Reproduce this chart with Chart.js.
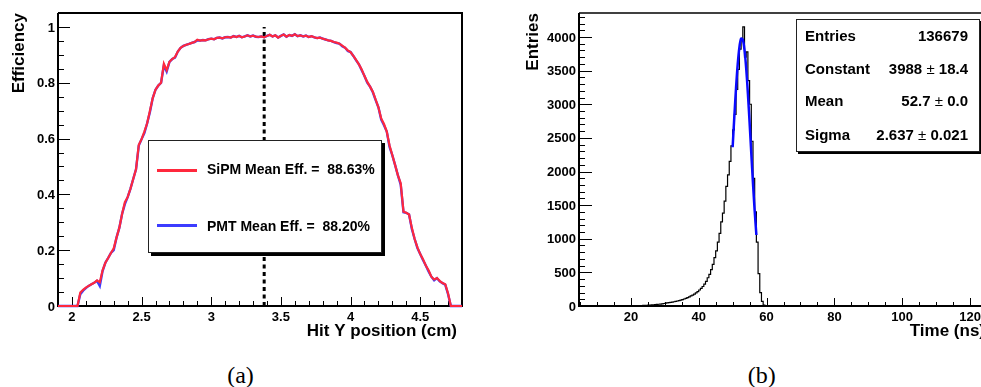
<!DOCTYPE html>
<html><head><meta charset="utf-8">
<script src="https://cdn.jsdelivr.net/npm/chart.js@4.4.1/dist/chart.umd.min.js"></script>
<style>
html,body{margin:0;padding:0;background:#fff;width:981px;height:387px;overflow:hidden;position:relative;font-family:"Liberation Sans",Arial,Helvetica,sans-serif;}
canvas{position:absolute;top:0;}
#cA{left:0;}
#cB{left:500px;}
.box{position:absolute;background:#fff;border:1px solid #222;box-sizing:border-box;}
.t{position:absolute;white-space:pre;font-weight:bold;color:#000;}
.leg{font-size:14px;line-height:14px;}
.st{font-size:15px;line-height:15px;}
.pm{font-weight:normal;}
.cap{position:absolute;width:100px;text-align:center;font-family:"Liberation Serif","Times New Roman",serif;font-size:24px;line-height:24px;top:363px;color:#000;}
.smp{position:absolute;height:3px;}
</style>
</head>
<body>
<canvas id="cA" width="490" height="340"></canvas>
<canvas id="cB" width="500" height="340"></canvas>

<div class="box" style="left:148px;top:140px;width:234px;height:113px;box-shadow:3px 3px 0 #000;"></div>
<div class="smp" style="left:157px;top:168.5px;width:40px;background:rgb(255,40,60);"></div>
<div class="t leg" style="left:207px;top:162px;">SiPM Mean Eff. =  88.63%</div>
<div class="smp" style="left:157px;top:223.5px;width:40px;background:rgb(60,60,255);"></div>
<div class="t leg" style="left:207px;top:219px;">PMT Mean Eff. =  88.20%</div>

<div class="box" style="left:796px;top:19px;width:184px;height:133px;box-shadow:2px 2px 0 #000;"></div>
<div class="t st" style="left:805px;top:28px;">Entries</div>
<div class="t st" style="right:13px;top:28px;">136679</div>
<div class="t st" style="left:805px;top:61.3px;">Constant</div>
<div class="t st" style="right:13px;top:61.3px;">3988 <span class="pm">±</span> 18.4</div>
<div class="t st" style="left:805px;top:93.3px;">Mean</div>
<div class="t st" style="right:13px;top:93.3px;">52.7 <span class="pm">±</span> 0.0</div>
<div class="t st" style="left:805px;top:126.6px;">Sigma</div>
<div class="t st" style="right:13px;top:126.6px;">2.637 <span class="pm">±</span> 0.021</div>

<div class="cap" style="left:190.5px;">(a)</div>
<div class="cap" style="left:711.7px;">(b)</div>

<script>
// ---------- Panel (a): efficiency vs hit Y position ----------
const hitYBinLow = 1.90, hitYBinWidth = 0.02;
const sipmEff = [
  0,0,0,0,0,0,0,0,0.048,0.058,
  0.066,0.072,0.078,0.083,0.092,0.085,0.128,0.155,0.172,0.19,
  0.207,0.245,0.28,0.33,0.372,0.39,0.42,0.455,0.49,0.578,
  0.598,0.625,0.655,0.70,0.745,0.775,0.79,0.80,0.868,0.845,
  0.875,0.885,0.892,0.912,0.925,0.932,0.936,0.939,0.943,0.946,
  0.954,0.951,0.953,0.952,0.956,0.958,0.956,0.961,0.962,0.959,
  0.963,0.964,0.962,0.967,0.964,0.968,0.963,0.966,0.970,0.966,
  0.969,0.965,0.964,0.966,0.963,0.968,0.972,0.966,0.970,0.962,
  0.968,0.973,0.965,0.971,0.968,0.974,0.967,0.970,0.966,0.969,
  0.964,0.967,0.963,0.960,0.962,0.958,0.955,0.952,0.950,0.946,
  0.944,0.940,0.933,0.926,0.916,0.910,0.896,0.882,0.866,0.848,
  0.824,0.803,0.786,0.768,0.740,0.712,0.672,0.652,0.625,0.575,
  0.540,0.505,0.468,0.440,0.338,0.334,0.328,0.280,0.240,0.210,
  0.186,0.168,0.145,0.128,0.105,0.095,0.100,0.090,0.082,0.078,
  0.045,0,0,0,0,0
];
const pmtEff = [
  0,0,0,0,0,0,0,0,0.042,0.055,
  0.064,0.072,0.078,0.083,0.09,0.072,0.125,0.155,0.172,0.19,
  0.2,0.245,0.28,0.33,0.365,0.39,0.42,0.455,0.49,0.575,
  0.598,0.62,0.655,0.695,0.745,0.775,0.79,0.80,0.862,0.84,
  0.875,0.885,0.89,0.912,0.925,0.932,0.936,0.939,0.943,0.946,
  0.952,0.951,0.953,0.952,0.956,0.958,0.956,0.961,0.962,0.959,
  0.963,0.964,0.962,0.967,0.964,0.968,0.963,0.966,0.970,0.966,
  0.969,0.965,0.964,0.966,0.963,0.968,0.972,0.966,0.970,0.962,
  0.968,0.973,0.965,0.971,0.968,0.974,0.967,0.970,0.966,0.969,
  0.964,0.967,0.963,0.960,0.962,0.958,0.955,0.952,0.950,0.946,
  0.942,0.940,0.931,0.926,0.914,0.910,0.896,0.880,0.866,0.845,
  0.824,0.8,0.786,0.766,0.738,0.712,0.668,0.648,0.625,0.57,
  0.540,0.505,0.468,0.435,0.336,0.334,0.328,0.276,0.240,0.208,
  0.186,0.165,0.145,0.124,0.105,0.092,0.100,0.088,0.082,0.076,
  0.042,0,0,0,0,0
];
const hitY = sipmEff.map((_, i) => +(hitYBinLow + hitYBinWidth * i).toFixed(2));
const markerY = 3.38;          // dashed vertical marker position (cm)
const markerTop = 1.0;
const xTicksA = [2, 2.5, 3, 3.5, 4, 4.5];
const yTicksA = [0, 0.2, 0.4, 0.6, 0.8, 1];

// ---------- Panel (b): time histogram ----------
const timeBinLow = 20.0, timeBinWidth = 0.5;
const timeCounts = [
  2,3,3,4,5,6,7,8,10,11,
  13,14,16,18,20,23,26,29,33,37,
  41,46,50,54,58,63,68,74,80,87,
  95,104,114,124,136,150,163,178,195,215,
  238,262,290,325,365,420,470,540,620,720,
  820,950,1080,1250,1380,1560,1780,1950,2150,2380,
  2620,2850,3220,3520,3820,3950,4150,3700,3780,3350,
  3000,2450,1900,1400,950,480,200,70,15,2
];
const timeEdges = timeCounts.map((_, i) => timeBinLow + timeBinWidth * i);
const fitT   = [50, 50.5, 51, 51.5, 52, 52.5, 53, 53.5, 54, 54.5, 55, 55.5, 56, 56.5, 57];
const fitVal = [2361, 2816, 3240, 3596, 3850, 3977, 3962, 3808, 3532, 3159, 2727, 2269, 1823, 1412, 1056];
const xTicksB = [20, 40, 60, 80, 100, 120];
const yTicksB = [0, 500, 1000, 1500, 2000, 2500, 3000, 3500, 4000];

// ---------- ROOT-style axes plugin ----------
const FONT_LBL = 'bold 13px "Liberation Sans", Arial, sans-serif';
const FONT_TTL = 'bold 17px "Liberation Sans", Arial, sans-serif';
const rootAxes = {
  id: 'rootAxes',
  beforeDatasetsDraw(chart, args, o) {
    const {ctx, chartArea: a} = chart;
    const xs = chart.scales.x, ys = chart.scales.y;
    ctx.save();
    ctx.strokeStyle = '#000';
    ctx.lineWidth = 1;
    ctx.beginPath();
    for (let k = Math.ceil(xs.min / o.xMinor - 1e-6); k * o.xMinor <= xs.max + 1e-6; k++) {
      const v = k * o.xMinor;
      const major = o.xTicks.some(t => Math.abs(t - v) < 1e-6);
      const px = Math.round(xs.getPixelForValue(v)) + 0.5;
      ctx.moveTo(px, a.bottom);
      ctx.lineTo(px, a.bottom - (major ? o.xMaj : o.xMin));
    }
    for (let k = Math.ceil(ys.min / o.yMinor - 1e-6); k * o.yMinor <= ys.max + 1e-6; k++) {
      const v = k * o.yMinor;
      const major = o.yTicks.some(t => Math.abs(t - v) < 1e-6);
      const py = Math.round(ys.getPixelForValue(v)) + 0.5;
      ctx.moveTo(a.left, py);
      ctx.lineTo(a.left + (major ? o.yMaj : o.yMin), py);
    }
    ctx.stroke();
    // frame
    ctx.lineWidth = 2;
    ctx.beginPath();
    ctx.moveTo(a.left, a.top);
    ctx.lineTo(a.left, a.bottom);
    ctx.lineTo(a.right, a.bottom);
    if (o.fullBox) { ctx.lineTo(a.right, a.top); ctx.lineTo(a.left, a.top); }
    ctx.stroke();
    if (!o.fullBox) {
      ctx.lineWidth = 1.5;
      ctx.beginPath();
      ctx.moveTo(a.left, a.top);
      ctx.lineTo(a.right + 2, a.top);
      ctx.stroke();
    }
    ctx.restore();
  },
  afterDraw(chart, args, o) {
    const {ctx, chartArea: a} = chart;
    const xs = chart.scales.x, ys = chart.scales.y;
    ctx.save();
    ctx.fillStyle = '#000';
    ctx.font = FONT_LBL;
    ctx.textAlign = 'center';
    ctx.textBaseline = 'alphabetic';
    o.xTicks.forEach(v => ctx.fillText(String(v), xs.getPixelForValue(v), a.bottom + 15));
    ctx.textAlign = 'right';
    ctx.textBaseline = 'middle';
    o.yTicks.forEach(v => ctx.fillText(String(v), a.left - 3, ys.getPixelForValue(v) + 1));
    ctx.font = FONT_TTL;
    ctx.textAlign = 'right';
    ctx.textBaseline = 'alphabetic';
    ctx.fillText(o.xTitle, a.right - o.xTitleInset, a.bottom + 30);
    ctx.translate(a.left - o.yTitleOff, a.top);
    ctx.rotate(-Math.PI / 2);
    ctx.textAlign = 'right';
    ctx.fillText(o.yTitle, 0, 0);
    ctx.restore();
  }
};

const common = {
  responsive: false,
  animation: false,
  events: [],
  plugins: { legend: { display: false }, tooltip: { enabled: false } },
  elements: { point: { radius: 0 } }
};

// Chart.js paints the first dataset last (on top): SiPM (red) first so it sits over PMT (blue).
new Chart(document.getElementById('cA'), {
  type: 'line',
  data: {
    datasets: [
      { data: hitY.map((x, i) => ({ x, y: sipmEff[i] })), borderColor: 'rgb(255,40,60)', borderWidth: 2.2, tension: 0, clip: false },
      { data: hitY.map((x, i) => ({ x, y: pmtEff[i] })), borderColor: 'rgb(60,60,255)', borderWidth: 2.4, tension: 0, clip: false },
      { data: [{ x: markerY, y: 0 }, { x: markerY, y: markerTop }], borderColor: '#000', borderWidth: 3, borderDash: [4, 3.5] }
    ]
  },
  options: Object.assign({}, common, {
    layout: { padding: { left: 58, top: 13, right: 28, bottom: 34 } },
    scales: {
      x: { type: 'linear', min: 1.9, max: 4.8, display: false },
      y: { type: 'linear', min: 0, max: 1.05, display: false }
    },
    plugins: Object.assign({}, common.plugins, {
      rootAxes: {
        xTicks: xTicksA, yTicks: yTicksA, xMinor: 0.1, yMinor: 0.05,
        xMaj: 9, xMin: 5, yMaj: 12, yMin: 6, fullBox: true,
        xTitle: 'Hit Y position (cm)', xTitleInset: 5,
        yTitle: 'Efficiency', yTitleOff: 34
      }
    })
  }),
  plugins: [rootAxes]
});

new Chart(document.getElementById('cB'), {
  type: 'line',
  data: {
    datasets: [
      { data: fitT.map((x, i) => ({ x, y: fitVal[i] })), borderColor: '#0a0aff', borderWidth: 2.5, tension: 0.3 },
      { data: timeEdges.map((x, i) => ({ x, y: timeCounts[i] })).concat([{ x: timeBinLow + timeBinWidth * timeCounts.length, y: 0 }]),
        borderColor: '#000', borderWidth: 1.2, stepped: 'before', clip: false }
    ]
  },
  options: Object.assign({}, common, {
    layout: { padding: { left: 79, top: 13, right: 13, bottom: 34 } },
    scales: {
      x: { type: 'linear', min: 4.7, max: 125, display: false },
      y: { type: 'linear', min: 0, max: 4357, display: false }
    },
    plugins: Object.assign({}, common.plugins, {
      rootAxes: {
        xTicks: xTicksB, yTicks: yTicksB, xMinor: 5, yMinor: 100,
        xMaj: 8, xMin: 4, yMaj: 13, yMin: 6, fullBox: false,
        xTitle: 'Time (ns)', xTitleInset: 2,
        yTitle: 'Entries', yTitleOff: 41
      }
    })
  }),
  plugins: [rootAxes]
});
</script>
</body></html>
